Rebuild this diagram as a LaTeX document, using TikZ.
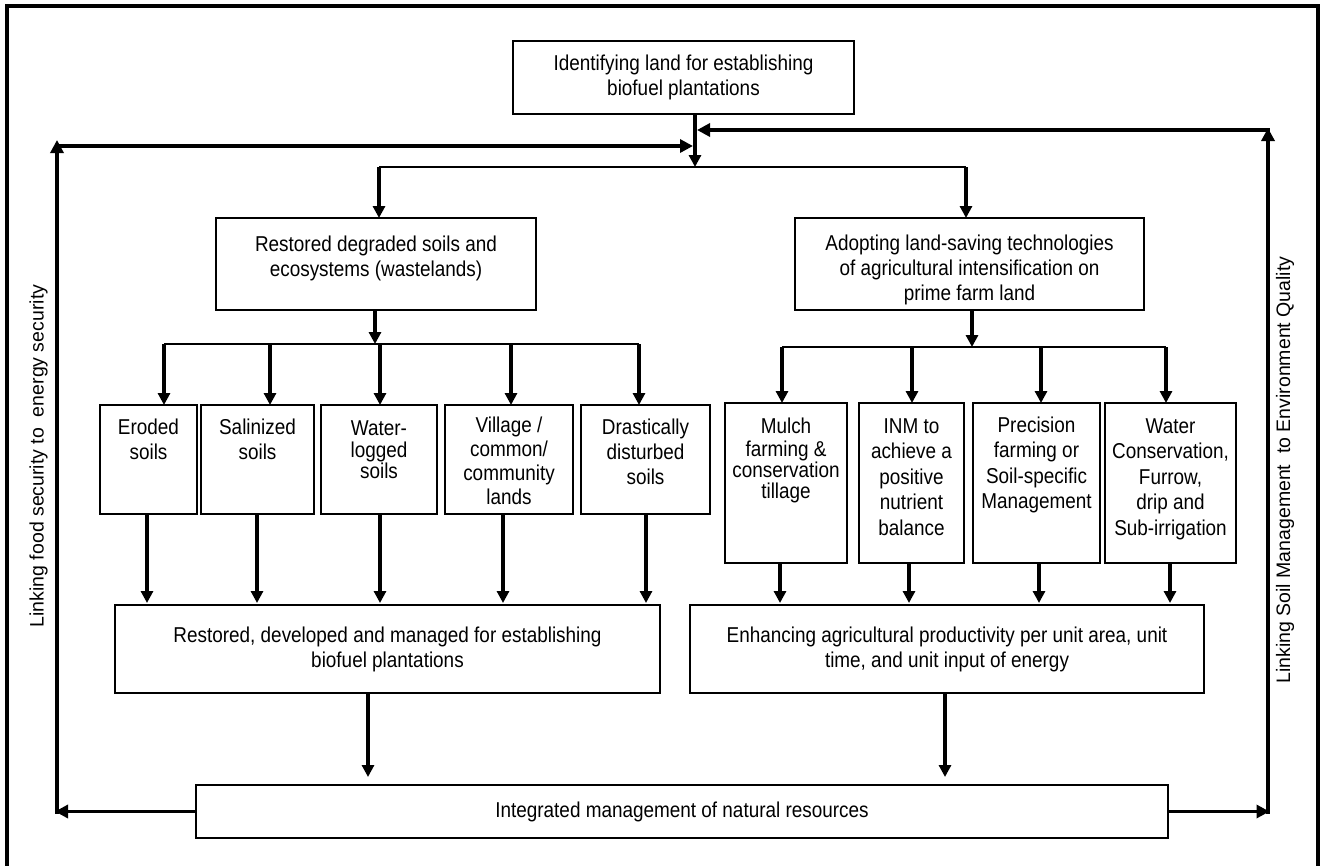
\documentclass[tikz,border=0pt]{standalone}
\usepackage{fontspec}
\setmainfont{Liberation Sans}[FakeStretch=0.88]
\newfontfamily\plainsans{Liberation Sans}
\usetikzlibrary{arrows.meta}
% width, height, top pad, baselineskip, text
\newcommand\tbx[5]{\parbox[c][#2pt][t]{#1pt}{\fontsize{21.5}{#4}\selectfont\centering\vspace*{#3pt}\strut#5\par}}
\begin{document}
\begin{tikzpicture}[x=1pt,y=-1pt, font=\fontsize{21.5}{25}\selectfont,
  bx/.style={draw, line width=2.3pt, inner sep=0pt, outer sep=0pt},
  cbx/.style={bx, align=center},
  arr/.style={line width=3.2pt, -{Triangle[length=12pt,width=12pt]}},
  fb/.style={line width=3.6pt, -{Triangle[length=13pt,width=13pt]}},
  ln/.style={line width=2.5pt},
  side/.style={rotate=90, font=\plainsans\fontsize{19.5}{24}\selectfont}]
\fill[white] (0,0) rectangle (1325,865);
\useasboundingbox (0,0) rectangle (1325,865);
\draw[line width=3.5pt] (7,875) -- (7,6) -- (1318,6) -- (1318,875);

% boxes
\node[cbx, minimum width=341pt, minimum height=73pt] (top) at (683.5,77.5) {Identifying land for establishing\\biofuel plantations};
\node[bx] (midL) at (376,264) {\tbx{320}{92}{15.5}{25}{Restored degraded soils and\\ecosystems (wastelands)}};
\node[bx] (midR) at (969.5,264) {\tbx{349}{92}{14.5}{25}{Adopting land-saving technologies\\of agricultural intensification on\\prime farm land}};

\node[bx] (eroded)  at (148.5,459.5) {\tbx{97}{109}{11.5}{25}{Eroded\\soils}};
\node[bx] (salin)   at (257.5,459.5) {\tbx{113}{109}{11.5}{25}{Salinized\\soils}};
\node[bx] (water)   at (379,459.5)   {\tbx{116}{109}{15.3}{21}{Water-\\logged\\soils}};
\node[bx] (village) at (509,459.5)   {\tbx{128}{109}{10.5}{24}{Village /\\common/\\community\\lands}};
\node[bx] (drastic) at (645.5,459.5) {\tbx{129}{109}{11.5}{25}{Drastically\\disturbed\\soils}};

\node[bx] (mulch) at (786,483)    {\tbx{122}{160}{15.3}{21}{Mulch\\farming \&\\conservation\\tillage}};
\node[bx] (inm)   at (911.5,483)  {\tbx{105}{160}{12.5}{25.5}{INM to\\achieve a\\positive\\nutrient\\balance}};
\node[bx] (prec)  at (1036.5,483) {\tbx{127}{160}{11.5}{25.5}{Precision\\farming or\\Soil-specific\\Management}};
\node[bx] (wcons) at (1170.5,483) {\tbx{131}{160}{12.5}{25.5}{Water\\Conservation,\\Furrow,\\drip and\\Sub-irrigation}};

\node[cbx, minimum width=545pt, minimum height=88pt] (botL) at (387.5,649) {Restored, developed and managed for establishing\\biofuel plantations};
\node[cbx, minimum width=514pt, minimum height=88pt] (botR) at (947,649) {Enhancing agricultural productivity per unit area, unit\\time, and unit input of energy};
\node[cbx, minimum width=972pt, minimum height=53pt] (integ) at (682,811.5) {Integrated management of natural resources};

\node[side] (labL) at (38.5,456) {Linking food security to~~energy security};
\node[side] (labR) at (1285,470) {Linking Soil Management~~to Environment Quality};

% top connectors
\coordinate (j0) at (695,167);
\draw[arr] (top.south -| j0) -- (j0);
\coordinate (bl) at (379,167);
\coordinate (br) at (966,167);
\draw[ln] (bl) -- (br);
\draw[arr] (bl) -- (bl |- midL.north);
\draw[arr] (br) -- (br |- midR.north);

% left branch
\coordinate (l2) at (375,344);
\draw[arr] (midL.south -| l2) -- (l2);
\coordinate (l2a) at (164,344);
\coordinate (l2b) at (639,344);
\draw[ln] (l2a) -- (l2b);
\foreach \x/\n in {164/eroded, 270/salin, 380/water, 511/village, 639/drastic}{
  \coordinate (t\n) at (\x,344);
  \draw[arr] (t\n) -- (t\n |- \n.north);
}
\foreach \x/\n in {147/eroded, 257/salin, 380/water, 503/village, 646/drastic}{
  \coordinate (b\n) at (\x,0);
  \draw[arr, shorten >=2pt] (b\n |- \n.south) -- (b\n |- botL.north);
}

% right branch
\coordinate (r2) at (972,347);
\draw[arr] (midR.south -| r2) -- (r2);
\coordinate (r2a) at (782,347);
\coordinate (r2b) at (1166,347);
\draw[ln] (r2a) -- (r2b);
\foreach \x/\n in {782/mulch, 912/inm, 1041/prec, 1166/wcons}{
  \coordinate (t\n) at (\x,347);
  \draw[arr] (t\n) -- (t\n |- \n.north);
}
\foreach \x/\n in {780/mulch, 909/inm, 1039/prec, 1170/wcons}{
  \coordinate (b\n) at (\x,0);
  \draw[arr, shorten >=2pt] (b\n |- \n.south) -- (b\n |- botR.north);
}

% to integrated management
\coordinate (d1) at (368,0);
\coordinate (d2) at (945,0);
\draw[arr, shorten >=8pt] (d1 |- botL.south) -- (d1 |- integ.north);
\draw[arr, shorten >=8pt] (d2 |- botR.south) -- (d2 |- integ.north);

% feedback left
\coordinate (ltip) at (55,0);
\draw[fb] (integ.west) -- (integ.west -| ltip);
\coordinate (lc) at (57,813.5);
\coordinate (lt) at (57,140);
\draw[fb] (lc) -- (lt);
\coordinate (lh1) at (55.2,146);
\coordinate (lh2) at (693,146);
\draw[fb] (lh1) -- (lh2);

% feedback right
\coordinate (rtip) at (1269.5,0);
\draw[fb] (integ.east) -- (integ.east -| rtip);
\coordinate (rc) at (1268,813.5);
\coordinate (rt) at (1268,128);
\draw[fb] (rc) -- (rt);
\coordinate (rh1) at (1269.8,130);
\coordinate (rh2) at (697,130);
\draw[fb] (rh1) -- (rh2);
\end{tikzpicture}
\end{document}
